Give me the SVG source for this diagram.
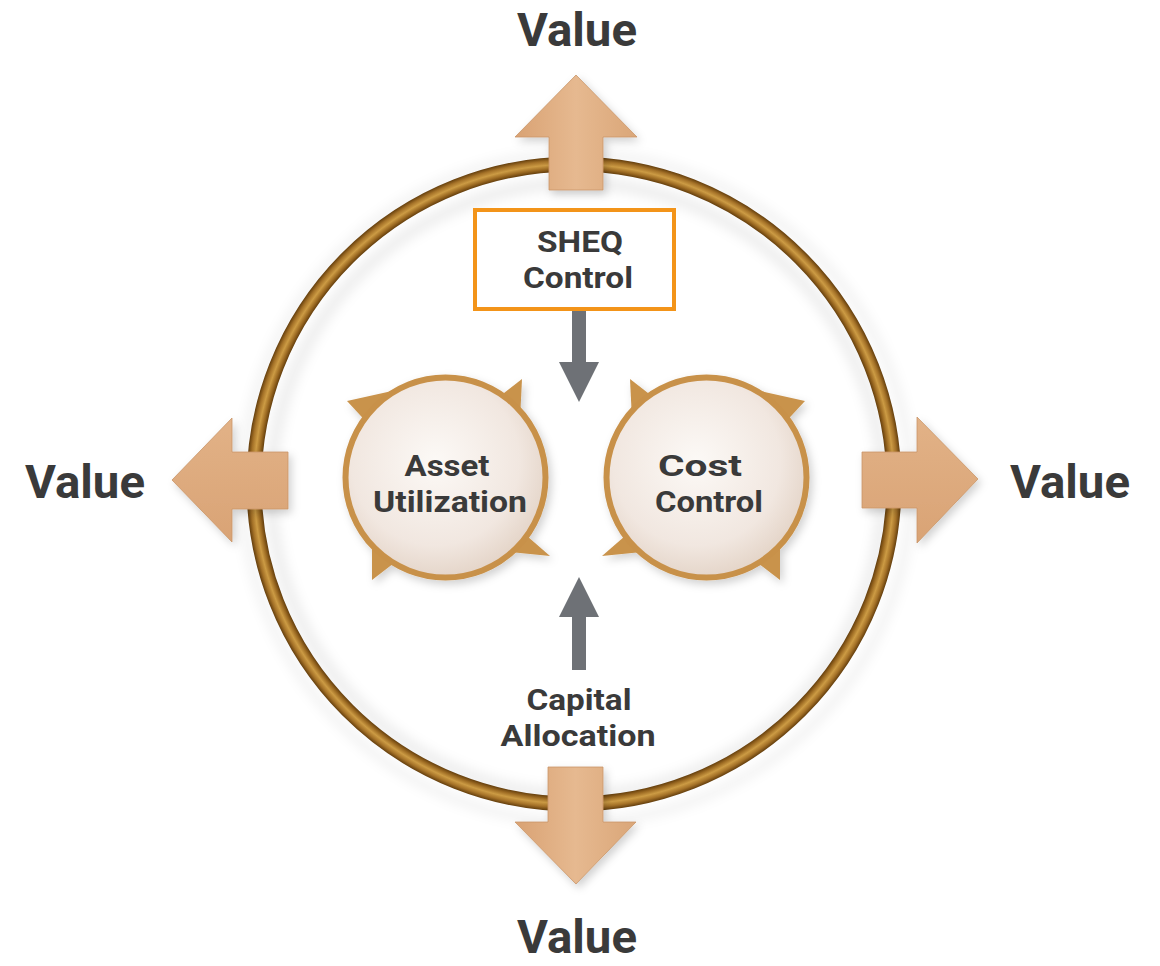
<svg xmlns="http://www.w3.org/2000/svg" width="1160" height="966" viewBox="0 0 1160 966">
<defs>
  <radialGradient id="ringGrad" gradientUnits="userSpaceOnUse" cx="574" cy="484" r="330">
    <stop offset="0.945" stop-color="#5A3608"/>
    <stop offset="0.957" stop-color="#9C6A22"/>
    <stop offset="0.969" stop-color="#CC9B44"/>
    <stop offset="0.981" stop-color="#A57228"/>
    <stop offset="0.994" stop-color="#5A3608"/>
  </radialGradient>
  <linearGradient id="arrowV" x1="0" y1="0" x2="1" y2="0">
    <stop offset="0" stop-color="#D9A273"/>
    <stop offset="0.5" stop-color="#E6B990"/>
    <stop offset="1" stop-color="#DAA678"/>
  </linearGradient>
  <linearGradient id="arrowH" x1="0" y1="0" x2="0" y2="1">
    <stop offset="0" stop-color="#E2B287"/>
    <stop offset="1" stop-color="#D9A375"/>
  </linearGradient>
  <radialGradient id="discGrad" cx="0.45" cy="0.42" r="0.6">
    <stop offset="0" stop-color="#FCF9F6"/>
    <stop offset="0.7" stop-color="#F1E7E0"/>
    <stop offset="1" stop-color="#E3D3C6"/>
  </radialGradient>
  <filter id="shadow" x="-20%" y="-20%" width="140%" height="140%">
    <feDropShadow dx="3" dy="4" stdDeviation="4" flood-color="#000" flood-opacity="0.18"/>
  </filter>
  <filter id="blur" x="-10%" y="-10%" width="120%" height="120%">
    <feGaussianBlur stdDeviation="6"/>
  </filter>
  <marker id="grayHead" viewBox="0 0 42 40" refX="0" refY="20" markerWidth="42" markerHeight="40" markerUnits="userSpaceOnUse" orient="auto">
    <path d="M0,0 L40,20 L0,40 Z" fill="#6E7176"/>
  </marker>
  <style>
    .lbl { font-family: Roboto, "Liberation Sans", sans-serif; font-weight: 700; fill: #3A3A3A; text-anchor: middle; }
    .val { font-size: 46px; }
    .node { font-size: 30px; }
    .barb { fill: #C9934C; }
    .disc { fill: url(#discGrad); stroke: #C8914A; stroke-width: 6; }
    .bigArrow { stroke: #C99668; stroke-width: 0.8; filter: url(#shadow); }
    .conn { stroke: #6E7176; stroke-width: 14; fill: none; }
  </style>
</defs>

<rect x="0" y="0" width="1160" height="966" fill="#FFFFFF"/>

<!-- ring -->
<g id="ring">
  <circle cx="577" cy="489" r="306" fill="none" stroke="#000" stroke-opacity="0.07" stroke-width="12" filter="url(#blur)"/>
  <circle cx="577" cy="488" r="334" fill="none" stroke="#000" stroke-opacity="0.06" stroke-width="8" filter="url(#blur)"/>
  <circle cx="574" cy="484" r="320" fill="none" stroke="url(#ringGrad)" stroke-width="15"/>
</g>

<!-- value arrows -->
<g id="arrow-top">
  <polygon class="bigArrow" fill="url(#arrowV)" points="576,75 637,137 603,137 603,190 549,190 549,137 515,137"/>
</g>
<g id="arrow-bottom">
  <polygon class="bigArrow" fill="url(#arrowV)" points="548,767 603,767 603,822 636,822 576,884 515,822 548,822"/>
</g>
<g id="arrow-left">
  <polygon class="bigArrow" fill="url(#arrowH)" points="172,480 232,418 232,452 288,452 288,509 232,509 232,542"/>
</g>
<g id="arrow-right">
  <polygon class="bigArrow" fill="url(#arrowH)" points="978,479 917,417 917,452 862,452 862,508 917,508 917,543"/>
</g>

<!-- value labels -->
<g id="value-top"><text class="lbl val" x="577" y="46" textLength="120" lengthAdjust="spacingAndGlyphs">Value</text></g>
<g id="value-left"><text class="lbl val" x="85" y="498" textLength="120" lengthAdjust="spacingAndGlyphs">Value</text></g>
<g id="value-right"><text class="lbl val" x="1070" y="498" textLength="120" lengthAdjust="spacingAndGlyphs">Value</text></g>
<g id="value-bottom"><text class="lbl val" x="577" y="953" textLength="120" lengthAdjust="spacingAndGlyphs">Value</text></g>

<!-- SHEQ Control -->
<g id="sheq-control">
  <rect x="475" y="210" width="199" height="99" fill="#FFFFFF" stroke="#F39419" stroke-width="4"/>
  <text class="lbl node" x="580" y="252" textLength="86" lengthAdjust="spacingAndGlyphs">SHEQ</text>
  <text class="lbl node" x="578" y="288" textLength="110" lengthAdjust="spacingAndGlyphs">Control</text>
</g>

<!-- Asset Utilization -->
<g id="asset-utilization">
  <g filter="url(#shadow)">
    <polygon class="barb" points="347,401 392,391 372,428"/>
    <polygon class="barb" points="522,379 495,400 520,420"/>
    <polygon class="barb" points="372,580 372,540 398,560"/>
    <polygon class="barb" points="550,556 527,536 510,552"/>
    <circle class="disc" cx="445.5" cy="477.5" r="100"/>
  </g>
  <text class="lbl node" x="447" y="476" textLength="85" lengthAdjust="spacingAndGlyphs">Asset</text>
  <text class="lbl node" x="450" y="512" textLength="154" lengthAdjust="spacingAndGlyphs">Utilization</text>
</g>

<!-- Cost Control -->
<g id="cost-control">
  <g filter="url(#shadow)">
    <polygon class="barb" points="805,401 760,391 780,428"/>
    <polygon class="barb" points="630,379 657,400 632,420"/>
    <polygon class="barb" points="780,580 780,540 754,560"/>
    <polygon class="barb" points="602,556 625,536 642,552"/>
    <circle class="disc" cx="706.5" cy="477.5" r="100"/>
  </g>
  <text class="lbl node" x="700" y="476" textLength="84" lengthAdjust="spacingAndGlyphs">Cost</text>
  <text class="lbl node" x="709" y="512" textLength="108" lengthAdjust="spacingAndGlyphs">Control</text>
</g>

<!-- Capital Allocation -->
<g id="capital-allocation">
  <text class="lbl node" x="579" y="710" textLength="105" lengthAdjust="spacingAndGlyphs">Capital</text>
  <text class="lbl node" x="578" y="746" textLength="155" lengthAdjust="spacingAndGlyphs">Allocation</text>
</g>

<!-- connectors -->
<g id="connectors">
  <line class="conn" x1="579" y1="311" x2="579" y2="362" marker-end="url(#grayHead)"/>
  <line class="conn" x1="579" y1="670" x2="579" y2="617" marker-end="url(#grayHead)"/>
</g>
</svg>
